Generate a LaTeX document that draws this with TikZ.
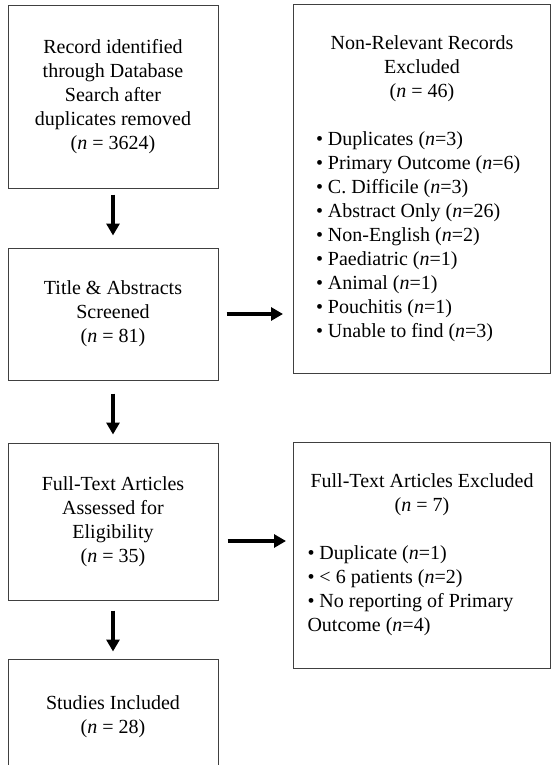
\documentclass[tikz,border=0pt]{standalone}
\usepackage{fontspec}
\setmainfont{Liberation Serif}
\usepackage{tikz}
\usetikzlibrary{arrows.meta,positioning}

\begin{document}
\begin{tikzpicture}[x=1pt, y=-1pt, box/.style={draw=black!75, line width=1pt, rectangle, inner sep=0pt, align=center, font=\fontsize{20}{24}\selectfont}, left/.style={box, minimum width=210pt}, right/.style={box, align=flush left, minimum width=257pt, inner xsep=14pt}, flow/.style={line width=4pt, -{Triangle[length=12pt, width=13pt]}}]
			\useasboundingbox (0,0) rectangle (552,765);

			\node[left, minimum height=182pt] (rec) at (113,97) {Record identified\\ through Database\\ Search after\\ duplicates removed\\ (\textit{n} = 3624)};
			\node[left, minimum height=132pt] (screen) at (113,314) {Title \& Abstracts\\ Screened\\ (\textit{n} = 81)};
			\node[left, minimum height=157pt] (ftin) at (113,521.5) {Full-Text Articles\\ Assessed for\\ Eligibility\\ (\textit{n} = 35)};
			\node[left, minimum height=115pt] (incl) at (113,716.5) {Studies Included\\ (\textit{n} = 28)};

			\node[right, inner xsep=22.5pt, text width=212pt, minimum height=368pt] (nonrel) at (422,189) {{\centering Non-Relevant Records\\ Excluded\\ (\textit{n} = 46)\par}
				\vspace{24pt}
				\textbullet\ Duplicates (\textit{n}=3)\\
				\textbullet\ Primary Outcome (\textit{n}=6)\\
				\textbullet\ C. Difficile (\textit{n}=3)\\
				\textbullet\ Abstract Only (\textit{n}=26)\\
				\textbullet\ Non-English (\textit{n}=2)\\
				\textbullet\ Paediatric (\textit{n}=1)\\
				\textbullet\ Animal (\textit{n}=1)\\
				\textbullet\ Pouchitis (\textit{n}=1)\\
				\textbullet\ Unable to find (\textit{n}=3)};
			\node[right, text width=229pt, minimum height=226pt] (ftex) at (422,555) {{\centering Full-Text Articles Excluded\\ (\textit{n} = 7)\par}
				\vspace{24pt}
				\textbullet\ Duplicate (\textit{n}=1)\\
				\textbullet\ < 6 patients (\textit{n}=2)\\
				\textbullet\ No reporting of Primary\\
				Outcome (\textit{n}=4)};

			\draw[flow, shorten <=6pt, shorten >=12pt] (rec) -- (screen);
			\draw[flow, shorten <=13pt, shorten >=8pt] (screen) -- (ftin);
			\draw[flow, shorten <=10pt, shorten >=7pt] (ftin) -- (incl);

			\draw[flow, shorten <=8pt, shorten >=10pt] (screen.east) -- (screen.east -| nonrel.west);
			\coordinate (ftout) at ([yshift=-19.5pt]ftin.east);
			\draw[flow, shorten <=9pt, shorten >=7pt] (ftout) -- (ftout -| ftex.west);
		\end{tikzpicture}
\end{document}
